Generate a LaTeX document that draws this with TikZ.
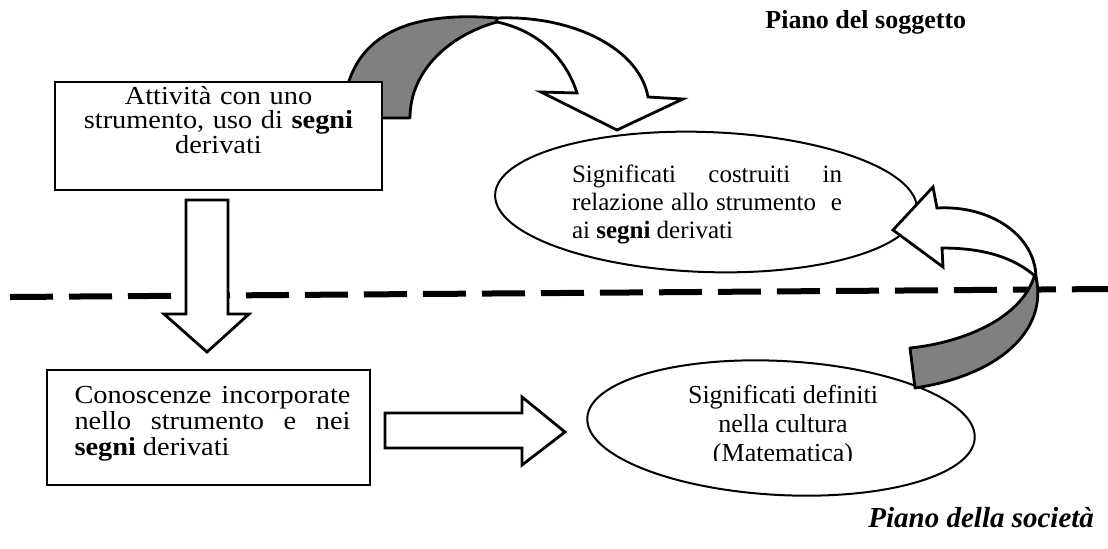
\documentclass[tikz,border=0pt]{standalone}
\usepackage{fontspec}
\setmainfont{Liberation Serif}
\newfontfamily\scanfont{Liberation Serif}[FakeStretch=1.09]
\usetikzlibrary{shapes.geometric}
\tikzset{
  boxnode/.style={draw, line width=1pt, fill=white, inner sep=0pt},
  ovalnode/.style={draw, ellipse, line width=1pt, fill=white, inner sep=0pt},
  boxtext/.style={inner sep=0pt, font=\fontsize{12}{12}\selectfont},
  blockarrow/.style={draw, line width=1.4pt, fill=white, line join=miter},
  ribbon/.style={draw, line width=1.4pt, fill=black!50, line join=round},
  plane/.style={anchor=base west, inner sep=0pt},
  divider/.style={line width=3pt, dash pattern=on 21.5pt off 8pt},
}

\begin{document}
\begin{tikzpicture}[x=0.5pt, y=-0.5pt]
  \useasboundingbox (0,0) rectangle (1108,548);
  % linea tra i due piani
  \draw [divider] (10,297) -- (1108,289);
  % freccia verso il basso
  \draw [blockarrow] (186,200) -- (228,200) -- (228,314) -- (249,314) -- (207,352) -- (164,314) -- (186,314) -- cycle;
  % freccia curva in alto
  \draw [ribbon] (343,118) .. controls (345,40) and (400,10) .. (497,18) -- (497,22) .. controls (450,35) and (410,70) .. (410,118) -- cycle;
  \draw [blockarrow] (497,18) .. controls (575,15) and (640,50) .. (648,97) -- (683,99) -- (617,130) -- (541,92) -- (577,93) .. controls (565,55) and (535,30) .. (497,22) -- cycle;
  % riquadro in alto
  \node [boxnode, minimum width=163.5pt, minimum height=54pt] (attivita) at (218.5,136) {};
  \node [boxtext, font=\scanfont\fontsize{13}{12.2}\selectfont, text width=160pt, align=center] (attivita-txt) at (218.5,120)
    {Attività con uno\\ strumento, uso di \textbf{segni}\\ derivati};
  % riquadro in basso
  \node [boxnode, minimum width=161.5pt, minimum height=57.5pt] (conoscenze) at (208.5,427.5) {};
  \node [boxtext, font=\scanfont\fontsize{13}{13}\selectfont, text width=138pt, align=justify] (conoscenze-txt) at (212.5,424)
    {Conoscenze incorporate\linebreak nello strumento e nei\linebreak \textbf{segni} derivati};
  % freccia verso destra
  \draw [blockarrow] (385,413) -- (522,413) -- (522,397) -- (565,432) -- (522,465) -- (522,448) -- (385,448) -- cycle;
  % ellissi
  \node [ovalnode, minimum width=211pt, minimum height=70pt, rotate=-2] (costruiti) at (706,202) {};
  \node [boxtext, font=\fontsize{12.5}{14}\selectfont, text width=135pt, align=justify] (costruiti-txt) at (707,204)
    {Significati costruiti in\linebreak relazione allo strumento\ \ e\linebreak ai \textbf{segni} derivati};
  \node [ovalnode, minimum width=194pt, minimum height=67pt, rotate=-3] (cultura) at (781,428) {};
  \begin{scope}
    \clip (600,350) rectangle (980,460);
    \node [boxtext, font=\fontsize{13}{14.5}\selectfont, align=center] (cultura-txt) at (783,426)
      {Significati definiti\\ nella cultura\\ (Matematica)};
  \end{scope}
  % freccia curva a destra
  \draw [ribbon] (1036,277) .. controls (1048,330) and (1000,375) .. (915,388) -- (910,348) .. controls (960,343) and (1020,320) .. (1034,277) -- cycle;
  \draw [blockarrow] (893,230) -- (933,187) -- (937,208) .. controls (990,205) and (1035,235) .. (1036,277) .. controls (1015,258) and (985,248) .. (942,248) -- (943,267) -- cycle;
  % piani
  \node [plane, font=\fontsize{13}{15}\selectfont\bfseries] (soggetto) at (765,28) {Piano del soggetto};
  \node [plane, font=\fontsize{14.5}{16}\selectfont\bfseries\itshape] (societa) at (868,527) {Piano della società};
\end{tikzpicture}
\end{document}
